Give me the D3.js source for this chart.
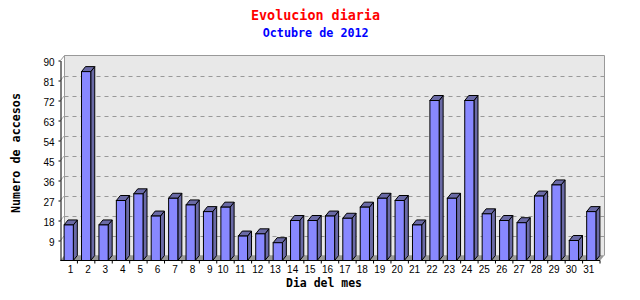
<!DOCTYPE html>
<html>
<head>
<meta charset="utf-8">
<script src="https://cdn.jsdelivr.net/npm/d3@7"></script>
<style>
  html, body { margin: 0; padding: 0; background: #ffffff; }
  svg { display: block; }
</style>
</head>
<body>
<svg id="chart" width="640" height="300"></svg>
<script>
// ---- data ----
const days = ["1","2","3","4","5","6","7","8","9","10","11","12","13","14","15","16",
              "17","18","19","20","21","22","23","24","25","26","27","28","29","30","31"];
const accesos = [16,85,16,27,30,20,28,25,22,24,11,12,8,18,18,20,19,24,28,27,16,72,28,72,21,18,17,29,34,9,22];
const yTicks = [9,18,27,36,45,54,63,72,81,90];
const yMax = 90;
const titleText = "Evolucion diaria";
const subtitleText = "Octubre de 2012";
const yTitle = "Numero de accesos";
const xTitle = "Dia del mes";

(function () {
// ---- layout ----
const svg = d3.select("#chart");
const pL = 60.5, pR = 600, pB = 260.5, pT = 60.5;
const dx = 4, dy = 5; // depth offsets
const mono = "'DejaVu Sans Mono', 'Liberation Mono', monospace";
const sans = "'Liberation Sans', Arial, sans-serif";

const x = d3.scaleBand().domain(days).range([60, pR]).paddingInner(0).paddingOuter(0);
const y = d3.scaleLinear().domain([0, yMax]).range([pB, pT]);

// titles
svg.append("text").attr("x", 315.5).attr("y", 20)
  .attr("text-anchor", "middle").attr("font-family", mono).attr("font-weight", "bold")
  .attr("font-size", 13.5).attr("fill", "#ff0000")
  .attr("textLength", 129).attr("lengthAdjust", "spacingAndGlyphs")
  .text(titleText);
svg.append("text").attr("x", 315.7).attr("y", 37)
  .attr("text-anchor", "middle").attr("font-family", mono).attr("font-weight", "bold")
  .attr("font-size", 12).attr("fill", "#0000ff")
  .attr("textLength", 106).attr("lengthAdjust", "spacingAndGlyphs")
  .text(subtitleText);

// back wall
svg.append("rect")
  .attr("x", pL + dx).attr("y", pT - dy)
  .attr("width", pR - pL).attr("height", pB - pT)
  .attr("fill", "#e8e8e8").attr("stroke", "none");
svg.append("path")
  .attr("d", `M${pL + dx},${pB - dy}V${pT - dy}H${pR + dx + 0.5}V${pB - dy}`)
  .attr("fill", "none").attr("stroke", "#999999").attr("stroke-width", 1);
svg.append("path")
  .attr("d", `M${pL},${pT}L${pL + dx},${pT - dy}`)
  .attr("fill", "none").attr("stroke", "#999999");

// grid lines on back wall + connectors on left wall
const grid = svg.append("g");
yTicks.filter(v => v < yMax).forEach(v => {
  const gy = Math.round(y(v) - dy) + 0.5;
  grid.append("line")
    .attr("x1", pL + dx).attr("x2", pR + dx)
    .attr("y1", gy).attr("y2", gy)
    .attr("stroke", "#999999").attr("stroke-dasharray", "4,4");
  grid.append("line")
    .attr("x1", pL).attr("y1", y(v))
    .attr("x2", pL + dx).attr("y2", y(v) - dy)
    .attr("stroke", "#aaaaaa");
});

// floor
svg.append("path")
  .attr("d", `M${pL},${pB}L${pR},${pB}L${pR + dx},${pB - dy}L${pL + dx},${pB - dy}Z`)
  .attr("fill", "#999999").attr("stroke", "#999999").attr("stroke-width", 0.5);

// bars
const bw = x.bandwidth() * 0.53;
const front = "#8888ff", side = "#6a6aa6";
const bars = svg.append("g").selectAll("g").data(days).join("g");
bars.each(function(d, i) {
  const g = d3.select(this);
  const cx = x(d) + x.bandwidth() / 2;
  const x0 = cx - bw / 2, x1 = cx + bw / 2;
  const ty = y(accesos[i]);
  g.append("path")
    .attr("d", `M${x1},${ty}L${x1 + dx},${ty - dy}L${x1 + dx},${pB - dy}L${x1},${pB}Z`)
    .attr("fill", side).attr("stroke", "#000").attr("stroke-width", 1).attr("stroke-linejoin", "round");
  g.append("path")
    .attr("d", `M${x0},${ty}L${x0 + dx},${ty - dy}L${x1 + dx},${ty - dy}L${x1},${ty}Z`)
    .attr("fill", side).attr("stroke", "#000").attr("stroke-width", 1).attr("stroke-linejoin", "round");
  g.append("rect")
    .attr("x", x0).attr("y", ty).attr("width", bw).attr("height", pB - ty)
    .attr("fill", front).attr("stroke", "#000").attr("stroke-width", 1);
});

// y axis
const yAxis = svg.append("g").attr("transform", `translate(${pL},0)`)
  .call(d3.axisLeft(y).tickValues(yTicks).tickSize(2).tickSizeOuter(0).tickPadding(4));
yAxis.select(".domain").attr("stroke", "#000");
yAxis.selectAll(".tick line").attr("stroke", "#000");
yAxis.selectAll(".tick text")
  .attr("font-family", sans).attr("font-size", 10).attr("fill", "#000")
  .attr("dy", "0.45em");

// x axis
const xAxis = svg.append("g").attr("transform", `translate(0,${pB})`)
  .call(d3.axisBottom(x).tickSize(0).tickSizeOuter(0).tickPadding(5));
xAxis.select(".domain").attr("stroke", "#000").attr("d", `M${pL},0H${pR}`);
xAxis.selectAll(".tick text")
  .attr("font-family", sans).attr("font-size", 10).attr("fill", "#000")
  .attr("dy", "0.71em")
  .attr("dx", d => d.length > 1 ? -2.5 : 1.8);
xAxis.selectAll(".bt").data(days).join("line").attr("class", "bt")
  .attr("x1", d => x(d) + x.bandwidth()).attr("x2", d => x(d) + x.bandwidth())
  .attr("y1", 0).attr("y2", 3).attr("stroke", "#000");

// axis titles
svg.append("text")
  .attr("transform", "translate(20,153) rotate(-90)")
  .attr("text-anchor", "middle").attr("font-family", mono).attr("font-weight", "bold")
  .attr("font-size", 12).attr("fill", "#000")
  .attr("textLength", 120).attr("lengthAdjust", "spacingAndGlyphs")
  .text(yTitle);
svg.append("text").attr("x", 324).attr("y", 286.5)
  .attr("text-anchor", "middle").attr("font-family", mono).attr("font-weight", "bold")
  .attr("font-size", 12).attr("fill", "#000")
  .attr("textLength", 76).attr("lengthAdjust", "spacingAndGlyphs")
  .text(xTitle);
})();
</script>
</body>
</html>
